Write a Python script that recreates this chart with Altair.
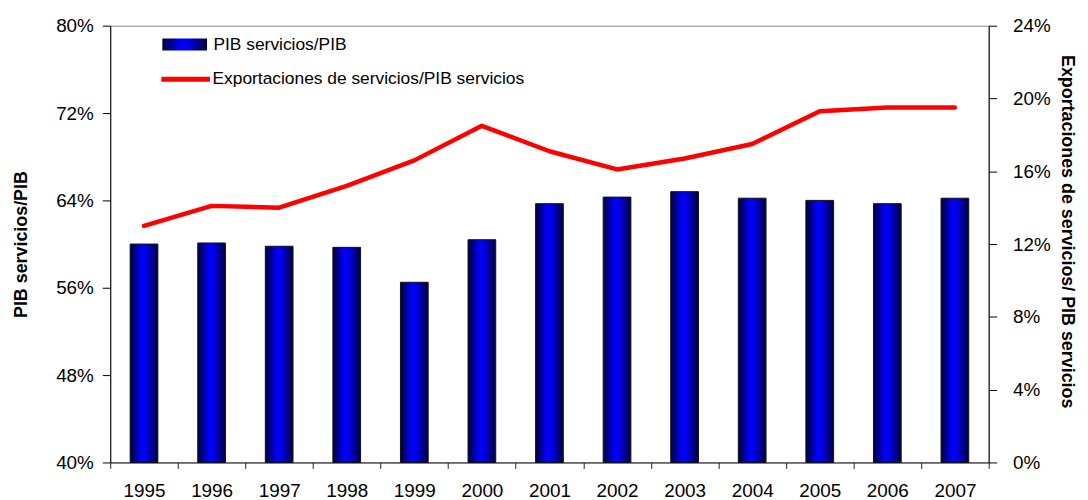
import altair as alt
import pandas as pd

years = ["1995", "1996", "1997", "1998", "1999", "2000", "2001",
         "2002", "2003", "2004", "2005", "2006", "2007"]
pib_servicios = [60.0, 60.1, 59.8, 59.7, 56.5, 60.4, 63.7,
                 64.3, 64.8, 64.2, 64.0, 63.7, 64.2]
export_servicios = [13.0, 14.1, 14.0, 15.2, 16.6, 18.5, 17.1,
                    16.1, 16.7, 17.5, 19.3, 19.5, 19.5]

left_ticks = [40, 48, 56, 64, 72, 80]
right_ticks = [0, 4, 8, 12, 16, 20, 24]

bar_name = "PIB servicios/PIB"
line_name = "Exportaciones de servicios/PIB servicios"

df = pd.DataFrame({"year": years, "pib": pib_servicios, "exp": export_servicios,
                   "sbar": [bar_name] * len(years), "sline": [line_name] * len(years)})

FONT = "Liberation Sans"

grad = alt.Gradient(
    gradient="linear", x1=0, x2=1, y1=0, y2=0,
    stops=[
        alt.GradientStop(color="#000038", offset=0),
        alt.GradientStop(color="#0000ff", offset=0.42),
        alt.GradientStop(color="#0000f0", offset=0.55),
        alt.GradientStop(color="#000040", offset=1),
    ],
)

x_enc = alt.X(
    "year:O",
    scale=alt.Scale(paddingInner=0, paddingOuter=0),
    axis=alt.Axis(
        title=None, labelAngle=0, tickBand="extent", tickSize=6,
        labelPadding=13, labelFontSize=19, labelFont=FONT, labelColor="black",
        domainColor="#222222", tickColor="#222222",
    ),
)

bars = alt.Chart(df).mark_bar(
    fill=grad, stroke="#111111", strokeWidth=1, width=alt.RelativeBandSize(0.41)
).encode(
    x=x_enc,
    y=alt.Y(
        "pib:Q",
        scale=alt.Scale(domain=[40, 80], zero=False, nice=False),
        axis=alt.Axis(
            title="PIB servicios/PIB", orient="left", values=left_ticks,
            labelExpr="datum.value + '%'", tickSize=8, labelPadding=9,
            labelFontSize=19, labelFont=FONT, labelColor="black",
            titleFont=FONT, titleFontSize=18, titleFontWeight="bold",
            titleColor="black", titlePadding=25, grid=False,
            domainColor="black", tickColor="black",
        ),
    ),
    y2=alt.datum(40),
)

legend_bar = alt.Chart(df).mark_point(
    opacity=0, size=0, fill=grad, stroke="black", strokeWidth=1, filled=True
).encode(
    shape=alt.Shape(
        "sbar:N",
        scale=alt.Scale(domain=[bar_name], range=["M-1,-0.27H1V0.27H-1Z"]),
        legend=alt.Legend(
            title=None, orient="none", legendX=52, legendY=-4,
            symbolSize=2025, symbolOpacity=1, symbolStrokeWidth=1,
            symbolStrokeColor="black", labelLimit=500,
            labelFontSize=17.5, labelFont=FONT, labelColor="black", labelOffset=6,
        ),
    ),
)

line = alt.Chart(df).mark_line(strokeWidth=4.5, strokeCap="round", strokeJoin="round").encode(
    x=x_enc,
    y=alt.Y(
        "exp:Q",
        scale=alt.Scale(domain=[0, 24], nice=False),
        axis=alt.Axis(
            title="Exportaciones de servicios/ PIB servicios", orient="right",
            values=right_ticks, labelExpr="datum.value + '%'", tickSize=8,
            labelPadding=16, labelFontSize=19, labelFont=FONT, labelColor="black",
            titleFont=FONT, titleFontSize=18, titleFontWeight="bold",
            titleColor="black", titlePadding=7, titleY=207, grid=False,
            domainColor="black", tickColor="black",
        ),
    ),
    stroke=alt.Stroke(
        "sline:N",
        scale=alt.Scale(domain=[line_name], range=["#ff0000"]),
        legend=alt.Legend(
            title=None, orient="none", legendX=49, legendY=27,
            symbolType="stroke", symbolSize=2401, symbolStrokeWidth=5,
            labelLimit=500,
            labelFontSize=17.5, labelFont=FONT, labelColor="black", labelOffset=0,
        ),
    ),
)

chart = alt.layer(bars, legend_bar, line).resolve_scale(
    y="independent", shape="independent", stroke="independent"
).properties(
    width=885, height=440,
    autosize=alt.AutoSizeParams(type="none"),
    padding={"left": 103, "top": 16, "right": 92, "bottom": 36},
).configure_view(
    stroke="#888888", strokeWidth=1
)

chart.save("out.html", embed_options={"renderer": "svg", "actions": False})
